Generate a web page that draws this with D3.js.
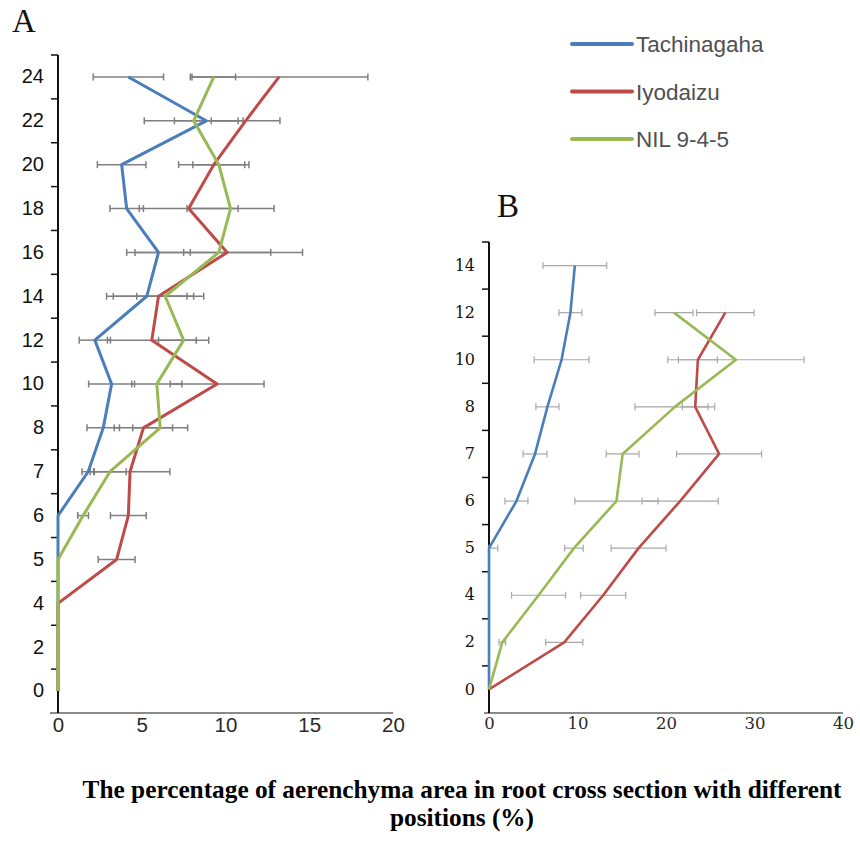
<!DOCTYPE html>
<html>
<head>
<meta charset="utf-8">
<script src="https://cdn.jsdelivr.net/npm/d3@7"></script>
<style>
  body { margin: 0; background: #fff; }
</style>
</head>
<body>
<div id="chart"></div>
<script>
const seriesNames = ["Tachinagaha", "Iyodaizu", "NIL 9-4-5"];
const seriesColors = ["#4a7ebb", "#be4b48", "#98b954"];

// panel A (positions, bottom to top)
const positionsA = ["0", "2", "4", "5", "6", "7", "8", "10", "12", "14", "16", "18", "20", "22", "24"];
const tachinagahaA = [0, 0, 0, 0, 0, 1.8, 2.7, 3.2, 2.2, 5.3, 6.0, 4.1, 3.8, 8.85, 4.2];
const tachinagahaErrA = [0, 0, 0, 0, 0, 0.37, 0.97, 1.37, 0.93, 2.4, 1.9, 1.0, 1.45, 1.9, 2.1];
const iyodaizuA = [0, 0, 0, 3.5, 4.2, 4.3, 5.1, 9.5, 5.6, 6.0, 10.1, 7.8, 9.3, 11.2, 13.2];
const iyodaizuErrA = [0, 0, 0, 1.1, 1.07, 2.38, 1.74, 2.8, 2.65, 2.7, 2.6, 2.95, 2.1, 2.05, 5.3];
const nilA = [0, 0, 0, 0, 1.5, 3.1, 6.1, 5.9, 7.5, 6.4, 9.6, 10.3, 9.6, 8.1, 9.3];
const nilErrA = [0, 0, 0, 0, 0.32, 0.97, 1.64, 1.5, 1.5, 1.7, 5.0, 2.6, 1.55, 2.95, 1.3];
const xTicksA = [0, 5, 10, 15, 20];

// panel B
const positionsB = ["0", "2", "4", "5", "6", "7", "8", "10", "12", "14"];
const tachinagahaB = [0, 0, 0, 0, 3.1, 5.2, 6.6, 8.2, 9.2, 9.7];
const tachinagahaErrB = [0, 0, 0, 1.0, 1.3, 1.35, 1.3, 3.1, 1.3, 3.6];
const iyodaizuB = [0, 8.5, 12.9, 16.9, 21.6, 26.0, 23.3, 23.6, 26.7, null];
const iyodaizuErrB = [0, 2.1, 2.55, 3.1, 4.3, 4.8, 1.45, 2.2, 3.25, null];
const nilB = [0, 1.5, 5.6, 9.6, 14.4, 15.1, 21.0, 27.9, 20.9, null];
const nilErrB = [0, 0.37, 3.05, 1.05, 4.7, 1.85, 4.5, 7.7, 2.15, null];
const xTicksB = [0, 10, 20, 30, 40];

const captionLines = [
    "The percentage of aerenchyma area in root cross section with different",
    "positions (%)"
];

const width = 860, height = 844;

const svg = d3.select("#chart")
    .append("svg")
    .attr("width", width)
    .attr("height", height);

function drawPanel(opts) {
    const { cats, series, errs, xDomain, xRange, yRange, xTicks, label, labelPos,
            lineWidth, errColor, errWidth, tickFont, tickSize, xTickSize, xAxisLeft } = opts;

    const x = d3.scaleLinear().domain(xDomain).range(xRange);
    const y = d3.scaleBand().domain(cats.slice().reverse()).range(yRange).padding(0);
    const cy = c => y(c) + y.bandwidth() / 2;

    const g = svg.append("g");

    // x axis
    const xAxis = g.append("g")
        .attr("transform", `translate(0, ${ yRange[1] })`)
        .call(d3.axisBottom(x).tickValues(xTicks).tickSize(0).tickPadding(4));
    xAxis.select(".domain").remove();
    xAxis.append("line")
        .attr("x1", xAxisLeft).attr("x2", xRange[1])
        .attr("stroke", "#8a8a8a").attr("stroke-width", 2);
    xAxis.selectAll("text")
        .attr("font-family", tickFont)
        .attr("font-size", xTickSize)
        .attr("fill", "#2a2a2a");

    // y axis: labels in band centres, ticks on band edges
    const yAxis = g.append("g")
        .attr("transform", `translate(${ xRange[0] }, 0)`)
        .call(d3.axisLeft(y).tickSize(0).tickPadding(14));
    yAxis.select(".domain").remove();
    yAxis.selectAll("text")
        .attr("font-family", tickFont)
        .attr("font-size", tickSize)
        .attr("fill", "#111");
    yAxis.append("line")
        .attr("y1", yRange[0]).attr("y2", yRange[1])
        .attr("stroke", "#111").attr("stroke-width", 2);
    yAxis.selectAll(".edge")
        .data(cats)
        .enter().append("line")
        .attr("class", "edge")
        .attr("x1", -7).attr("x2", 0)
        .attr("y1", c => y(c)).attr("y2", c => y(c))
        .attr("stroke", "#111").attr("stroke-width", 1.5);

    // error bars, then lines on top
    series.forEach((vals, si) => {
        const bars = cats.map((c, i) => ({ c, v: vals[i], e: errs[si][i] }))
            .filter(d => d.v != null && d.e);
        const eg = g.append("g")
            .attr("stroke", errColor)
            .attr("stroke-width", errWidth);
        bars.forEach(d => {
            const lo = x(Math.max(0, d.v - d.e)), hi = x(d.v + d.e), yy = cy(d.c);
            eg.append("line").attr("x1", lo).attr("x2", hi).attr("y1", yy).attr("y2", yy);
            [lo, hi].forEach(px => eg.append("line")
                .attr("x1", px).attr("x2", px).attr("y1", yy - 3.5).attr("y2", yy + 3.5));
        });
    });

    const line = d3.line()
        .defined(d => d.v != null)
        .x(d => x(d.v))
        .y(d => cy(d.c));

    series.forEach((vals, si) => {
        g.append("path")
            .datum(cats.map((c, i) => ({ c, v: vals[i] })))
            .attr("fill", "none")
            .attr("stroke", seriesColors[si])
            .attr("stroke-width", lineWidth)
            .attr("stroke-linejoin", "round")
            .attr("d", line);
    });

    svg.append("text")
        .attr("x", labelPos[0]).attr("y", labelPos[1])
        .attr("font-family", "Liberation Serif, Times New Roman, serif")
        .attr("font-size", 33)
        .attr("fill", "#111")
        .text(label);
}

drawPanel({
    cats: positionsA,
    series: [tachinagahaA, iyodaizuA, nilA],
    errs: [tachinagahaErrA, iyodaizuErrA, nilErrA],
    xDomain: [0, 20], xRange: [58, 393], yRange: [55, 713],
    xTicks: xTicksA, label: "A", labelPos: [12, 32],
    lineWidth: 3, errColor: "#7f7f7f", errWidth: 1.5,
    tickFont: "Liberation Sans, Arial, sans-serif", tickSize: 20, xTickSize: 20.5, xAxisLeft: 50
});

drawPanel({
    cats: positionsB,
    series: [tachinagahaB, iyodaizuB, nilB],
    errs: [tachinagahaErrB, iyodaizuErrB, nilErrB],
    xDomain: [0, 40], xRange: [489, 843], yRange: [242, 713],
    xTicks: xTicksB, label: "B", labelPos: [497, 217],
    lineWidth: 2.6, errColor: "#a8a8a8", errWidth: 1.2,
    tickFont: "DejaVu Serif, serif", tickSize: 16, xTickSize: 16.5, xAxisLeft: 484
});

// legend
const legend = svg.append("g").attr("transform", "translate(572, 44)");
seriesNames.forEach((name, i) => {
    const row = legend.append("g").attr("transform", `translate(0, ${ i * 47.5 })`);
    row.append("line")
        .attr("x1", 0).attr("x2", 60)
        .attr("stroke", seriesColors[i])
        .attr("stroke-width", 4)
        .attr("stroke-linecap", "round");
    row.append("text")
        .attr("x", 64).attr("y", 8)
        .attr("font-family", "Liberation Sans, Arial, sans-serif")
        .attr("font-size", 22.5)
        .attr("fill", "#505050")
        .text(name);
});

// caption
svg.append("g")
    .selectAll("text")
    .data(captionLines)
    .enter().append("text")
    .attr("x", 462)
    .attr("y", (d, i) => 798 + i * 28)
    .attr("text-anchor", "middle")
    .attr("font-family", "Liberation Serif, Times New Roman, serif")
    .attr("font-weight", "bold")
    .attr("font-size", 25.3)
    .attr("fill", "#000")
    .text(d => d);
</script>
</body>
</html>
